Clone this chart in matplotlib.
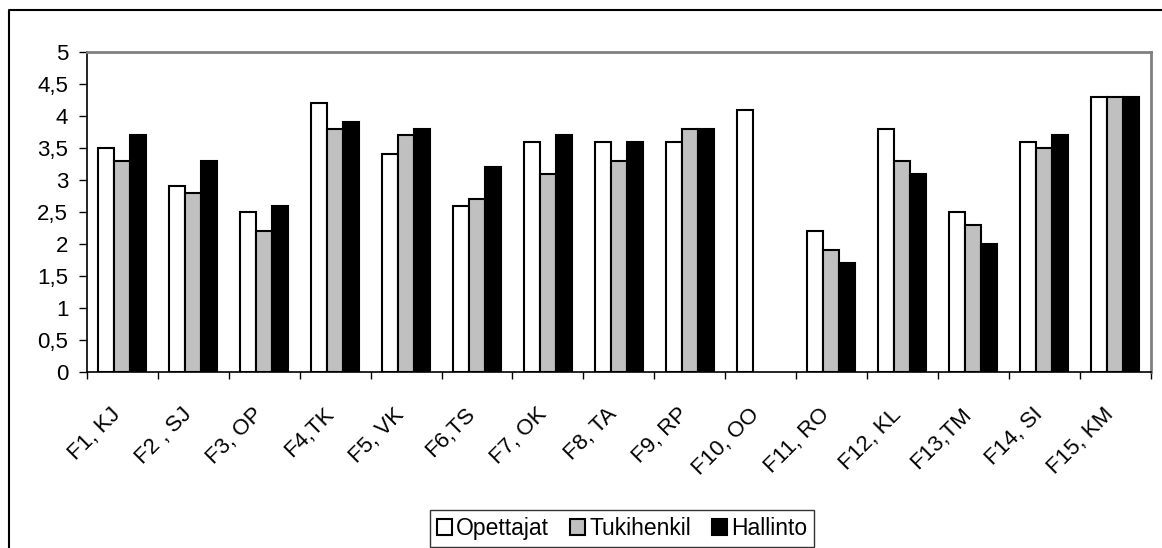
import matplotlib
matplotlib.use("Agg")
import matplotlib.pyplot as plt
import matplotlib.transforms as mtransforms
import numpy as np

categories = ["F1, KJ", "F2 , SJ", "F3, OP", "F4,TK", "F5, VK", "F6,TS", "F7, OK",
              "F8, TA", "F9, RP", "F10, OO", "F11, RO", "F12, KL", "F13,TM", "F14, SI", "F15, KM"]
opettajat = [3.5, 2.9, 2.5, 4.2, 3.4, 2.6, 3.6, 3.6, 3.6, 4.1, 2.2, 3.8, 2.5, 3.6, 4.3]
tukihenkil = [3.3, 2.8, 2.2, 3.8, 3.7, 2.7, 3.1, 3.3, 3.8, np.nan, 1.9, 3.3, 2.3, 3.5, 4.3]
hallinto = [3.7, 3.3, 2.6, 3.9, 3.8, 3.2, 3.7, 3.6, 3.8, np.nan, 1.7, 3.1, 2.0, 3.7, 4.3]
yticks = [0, 0.5, 1, 1.5, 2, 2.5, 3, 3.5, 4, 4.5, 5]

plt.rcParams['font.family'] = ['Liberation Sans', 'DejaVu Sans']

W, H = 1162, 548
fig = plt.figure(figsize=(W / 100, H / 100), dpi=100)
ax = fig.add_axes([87 / W, (H - 372) / H, (1150.5 - 87) / W, (372 - 52) / H])

x = np.arange(len(categories))
bw = 0.226
series = [(opettajat, "white", "Opettajat"), (tukihenkil, "#c0c0c0", "Tukihenkil"), (hallinto, "black", "Hallinto")]
for k, (vals, col, lab) in enumerate(series):
    ax.bar(x + (k - 1) * bw, vals, bw, color=col, edgecolor="black", linewidth=1.5, label=lab)

ax.set_xlim(-0.5, len(categories) - 0.5)
ax.set_ylim(0, 5)
ax.set_yticks(yticks)
ax.set_yticklabels([("%g" % v).replace(".", ",") for v in yticks], fontsize=16)
ax.tick_params(axis="y", direction="out", length=6, width=1, pad=7.5)

ax.set_xticks(x)
ax.set_xticklabels(categories, rotation=45, ha="right", va="top", rotation_mode="anchor", fontsize=16)
ax.tick_params(axis="x", which="major", length=0, pad=0)
# excel puts the rotated labels a bit left of / below the category centre
shift = mtransforms.ScaledTranslation(-12 / 100, -32 / 100, fig.dpi_scale_trans)
for lbl in ax.get_xticklabels():
    lbl.set_transform(lbl.get_transform() + shift)
ax.set_xticks(np.arange(-0.5, len(categories)), minor=True)
ax.tick_params(axis="x", which="minor", direction="out", length=5, width=1)

for s in ["left", "bottom"]:
    ax.spines[s].set_color("black")
    ax.spines[s].set_linewidth(1.2)
for s in ["top", "right"]:
    ax.spines[s].set_color("#808080")
    ax.spines[s].set_linewidth(2)

leg = fig.legend(loc="lower center", bbox_to_anchor=(622 / W, 1 / H), ncol=3, fontsize=16.5,
                 frameon=True, fancybox=False, edgecolor="black", handlelength=0.65,
                 handleheight=0.65, handletextpad=0.2, columnspacing=0.9, borderpad=0.3,
                 borderaxespad=0)
leg.get_frame().set_linewidth(1)

# outer chart frame (left and top edges visible)
fig.add_artist(plt.Line2D([8.5 / W, 8.5 / W, 1], [0, 1 - 9.5 / H, 1 - 9.5 / H],
                          transform=fig.transFigure, color="black", linewidth=1.5))

fig.savefig("out.png", dpi=100)
